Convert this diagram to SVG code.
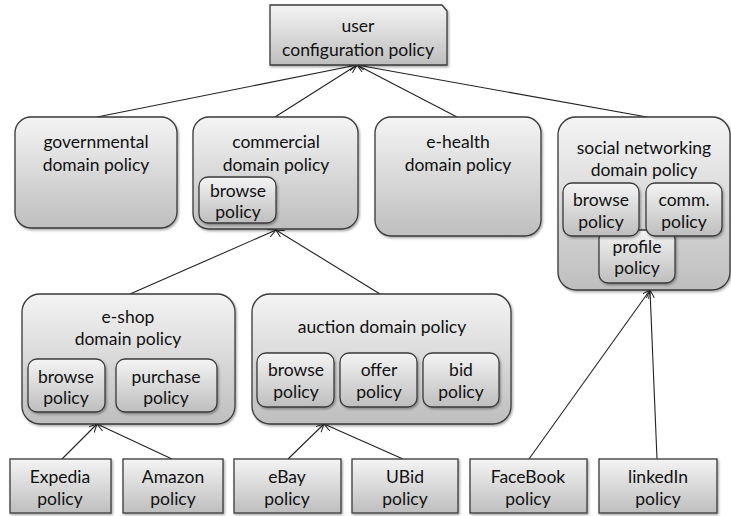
<svg xmlns="http://www.w3.org/2000/svg" width="731" height="516" viewBox="0 0 731 516">
<defs>
<linearGradient id="g" x1="0" y1="0" x2="0" y2="1">
<stop offset="0" stop-color="#f4f4f4"/>
<stop offset="1" stop-color="#bebebe"/>
</linearGradient>
<filter id="sh" x="-10%" y="-10%" width="125%" height="125%">
<feDropShadow dx="1.2" dy="1.5" stdDeviation="1" flood-color="#000" flood-opacity="0.35"/>
</filter>
<marker id="arr" markerWidth="10" markerHeight="10" refX="8" refY="4" orient="auto" markerUnits="userSpaceOnUse">
<path d="M0,0 L8,4 L0,8" fill="none" stroke="#222" stroke-width="1"/>
</marker>
</defs>
<style>
.b{fill:url(#g);stroke:#3a3a3a;stroke-width:1.3;filter:url(#sh)}
.t{font-family:Lato,"Open Sans","Liberation Sans",sans-serif;font-size:17.5px;fill:#111;text-anchor:middle}
.c{stroke:#222;stroke-width:1.1;fill:none;marker-end:url(#arr)}
</style>
<g id="connectors">
<line class="c" x1="97" y1="117" x2="357" y2="65"/>
<line class="c" x1="275" y1="117" x2="357" y2="65"/>
<line class="c" x1="457" y1="117" x2="357" y2="65"/>
<line class="c" x1="647" y1="117" x2="357" y2="65"/>
<line class="c" x1="130" y1="294" x2="276" y2="230"/>
<line class="c" x1="380" y1="294" x2="276" y2="230"/>
<line class="c" x1="62" y1="459" x2="97" y2="424"/>
<line class="c" x1="172" y1="459" x2="97" y2="424"/>
<line class="c" x1="288" y1="459" x2="324" y2="424"/>
<line class="c" x1="403" y1="459" x2="324" y2="424"/>
<line class="c" x1="529" y1="459" x2="650" y2="290"/>
<line class="c" x1="657" y1="459" x2="650" y2="290"/>
</g>
<g id="user">
<path class="b" d="M270,5 H442 L447,11 V65 H270 Z"/>
<text class="t" x="358" y="32">user</text>
<text class="t" x="358" y="56">configuration policy</text>
</g>
<g id="governmental">
<rect class="b" x="15" y="117" width="162" height="111" rx="16"/>
<text class="t" x="96" y="148">governmental</text>
<text class="t" x="96" y="171">domain policy</text>
</g>
<g id="commercial">
<rect class="b" x="193" y="117" width="165" height="112" rx="16"/>
<text class="t" x="276" y="148">commercial</text>
<text class="t" x="276" y="171">domain policy</text>
<g id="commercial-browse">
<rect class="b" x="199" y="177" width="77" height="46" rx="9"/>
<text class="t" x="238" y="197">browse</text>
<text class="t" x="238" y="218">policy</text>
</g>
</g>
<g id="ehealth">
<rect class="b" x="375" y="117" width="166" height="119" rx="16"/>
<text class="t" x="458" y="148">e-health</text>
<text class="t" x="458" y="171">domain policy</text>
</g>
<g id="social">
<rect class="b" x="558" y="117" width="172" height="173" rx="18"/>
<text class="t" x="644" y="154">social networking</text>
<text class="t" x="644" y="176">domain policy</text>
<g id="social-profile">
<rect class="b" x="599" y="230" width="76" height="53" rx="9"/>
<text class="t" x="637" y="253">profile</text>
<text class="t" x="637" y="274">policy</text>
</g>
<g id="social-browse">
<rect class="b" x="563" y="183" width="76" height="53" rx="9"/>
<text class="t" x="601" y="206">browse</text>
<text class="t" x="601" y="228">policy</text>
</g>
<g id="social-comm">
<rect class="b" x="646" y="183" width="76" height="53" rx="9"/>
<text class="t" x="684" y="206">comm.</text>
<text class="t" x="684" y="228">policy</text>
</g>
</g>
<g id="eshop">
<rect class="b" x="22" y="294" width="213" height="130" rx="18"/>
<text class="t" x="128" y="323">e-shop</text>
<text class="t" x="128" y="345">domain policy</text>
<g id="eshop-browse">
<rect class="b" x="28" y="359" width="77" height="53" rx="9"/>
<text class="t" x="66" y="383">browse</text>
<text class="t" x="66" y="404">policy</text>
</g>
<g id="eshop-purchase">
<rect class="b" x="116" y="359" width="101" height="53" rx="9"/>
<text class="t" x="166" y="383">purchase</text>
<text class="t" x="166" y="404">policy</text>
</g>
</g>
<g id="auction">
<rect class="b" x="252" y="294" width="259" height="130" rx="18"/>
<text class="t" x="382" y="333">auction domain policy</text>
<g id="auction-browse">
<rect class="b" x="257" y="353" width="77" height="54" rx="9"/>
<text class="t" x="296" y="376">browse</text>
<text class="t" x="296" y="398">policy</text>
</g>
<g id="auction-offer">
<rect class="b" x="340" y="353" width="77" height="54" rx="9"/>
<text class="t" x="379" y="376">offer</text>
<text class="t" x="379" y="398">policy</text>
</g>
<g id="auction-bid">
<rect class="b" x="423" y="353" width="76" height="54" rx="9"/>
<text class="t" x="461" y="376">bid</text>
<text class="t" x="461" y="398">policy</text>
</g>
</g>
<g id="expedia">
<rect class="b" x="10" y="459" width="101" height="54"/>
<text class="t" x="60" y="483">Expedia</text>
<text class="t" x="60" y="505">policy</text>
</g>
<g id="amazon">
<rect class="b" x="123" y="459" width="100" height="54"/>
<text class="t" x="173" y="483">Amazon</text>
<text class="t" x="173" y="505">policy</text>
</g>
<g id="ebay">
<rect class="b" x="234" y="459" width="107" height="54"/>
<text class="t" x="287" y="483">eBay</text>
<text class="t" x="287" y="505">policy</text>
</g>
<g id="ubid">
<rect class="b" x="352" y="459" width="106" height="54"/>
<text class="t" x="405" y="483">UBid</text>
<text class="t" x="405" y="505">policy</text>
</g>
<g id="facebook">
<rect class="b" x="470" y="459" width="117" height="54"/>
<text class="t" x="528" y="483">FaceBook</text>
<text class="t" x="528" y="505">policy</text>
</g>
<g id="linkedin">
<rect class="b" x="599" y="459" width="118" height="54"/>
<text class="t" x="658" y="483">linkedIn</text>
<text class="t" x="658" y="505">policy</text>
</g>
</svg>
